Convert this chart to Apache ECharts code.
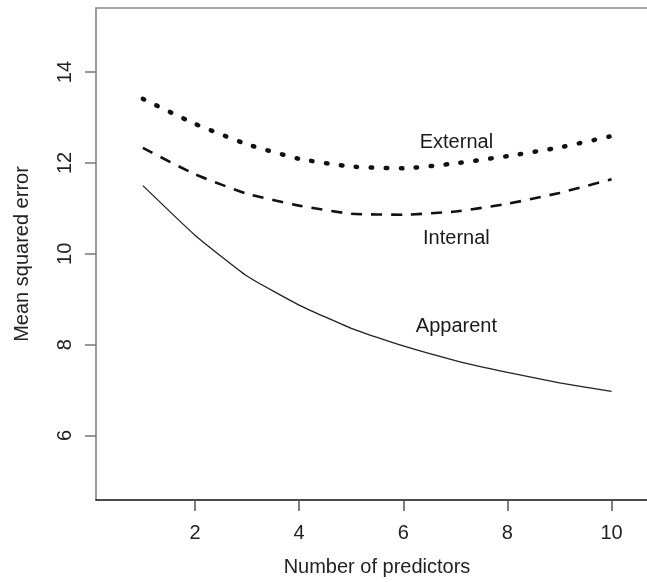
<!DOCTYPE html>
<html>
<head>
<meta charset="utf-8">
<script src="https://cdn.jsdelivr.net/npm/echarts@6/dist/echarts.min.js"></script>
<style>
  html, body { margin: 0; padding: 0; background: #fff; }
  #chart { width: 647px; height: 582px; }
</style>
</head>
<body>
<div id="chart"></div>
<script>
// number of predictors
const predictors = [1, 2, 3, 4, 5, 6, 7, 8, 9, 10];
// mean squared error
const apparent = [11.50, 10.41, 9.51, 8.87, 8.36, 7.97, 7.65, 7.39, 7.16, 6.97];
const internal = [12.33, 11.75, 11.32, 11.06, 10.88, 10.86, 10.93, 11.10, 11.34, 11.64];
const external = [13.41, 12.86, 12.41, 12.09, 11.92, 11.88, 11.99, 12.15, 12.34, 12.59];

const xTicks = [2, 4, 6, 8, 10];
const yTicks = [6, 8, 10, 12, 14];

// curve labels inside the plot
const labelNames = ['External', 'Internal', 'Apparent'];
const labelX = [7.02, 7.02, 7.02];
const labelY = [12.45, 10.34, 8.40];

const font = '"Liberation Sans", Arial, Helvetica, sans-serif';

function pairs(ys) {
  return predictors.map((x, i) => [x, ys[i]]);
}

const chart = echarts.init(document.getElementById('chart'));

chart.setOption({
  backgroundColor: '#fff',
  animation: false,
  grid: { left: 96, top: 8, right: 0, bottom: 80.5 },
  xAxis: [
    {
      type: 'value',
      min: 0.1, max: 10.68,
      name: 'Number of predictors',
      nameLocation: 'middle',
      nameGap: 57,
      nameTextStyle: { fontFamily: font, fontSize: 20, color: '#222', padding: [0, 0, 0, 11] },
      axisLine: { show: true, lineStyle: { color: '#111', width: 1.5 } },
      axisTick: { show: true, length: 11, customValues: xTicks, lineStyle: { color: '#555', width: 1.5 } },
      axisLabel: { customValues: xTicks, margin: 23, fontFamily: font, fontSize: 20, color: '#222' },
      splitLine: { show: false }
    },
    {
      // top edge of the box only
      type: 'value', position: 'top',
      min: 0.1, max: 10.68,
      axisLine: { show: true, lineStyle: { color: '#8a8a8a', width: 1.5 } },
      axisTick: { show: false }, axisLabel: { show: false }, splitLine: { show: false }
    }
  ],
  yAxis: {
    type: 'value',
    min: 4.58, max: 15.41,
    name: 'Mean squared error',
    nameLocation: 'middle',
    nameRotate: 90,
    nameGap: 64,
    nameTextStyle: { fontFamily: font, fontSize: 20, color: '#222' },
    axisLine: { show: true, lineStyle: { color: '#7a7a7a', width: 1.5 } },
    axisTick: { show: true, length: 11, customValues: yTicks, lineStyle: { color: '#777', width: 1.5 } },
    axisLabel: { customValues: yTicks, rotate: 90, margin: 21, fontFamily: font, fontSize: 20, color: '#222' },
    splitLine: { show: false }
  },
  series: [
    {
      name: 'Apparent', type: 'line', data: pairs(apparent),
      showSymbol: false, smooth: 0.15,
      lineStyle: { color: '#222', width: 1.3 }
    },
    {
      name: 'Internal', type: 'line', data: pairs(internal),
      showSymbol: false, smooth: 0.15,
      lineStyle: { color: '#111', width: 2.6, type: [11, 9] }
    },
    {
      name: 'External', type: 'line', data: pairs(external),
      showSymbol: false, smooth: 0.15,
      lineStyle: { color: '#111', width: 4.5, type: [1.5, 13.5], cap: 'round' }
    },
    {
      type: 'scatter',
      symbolSize: 0,
      itemStyle: { opacity: 1 },
      data: labelNames.map((n, i) => ({ name: n, value: [labelX[i], labelY[i]] })),
      label: {
        show: true, position: 'inside',
        formatter: p => p.name,
        fontFamily: font, fontSize: 20, color: '#1a1a1a',
        textBorderWidth: 0, opacity: 1
      },
      silent: true
    }
  ]
});
</script>
</body>
</html>
